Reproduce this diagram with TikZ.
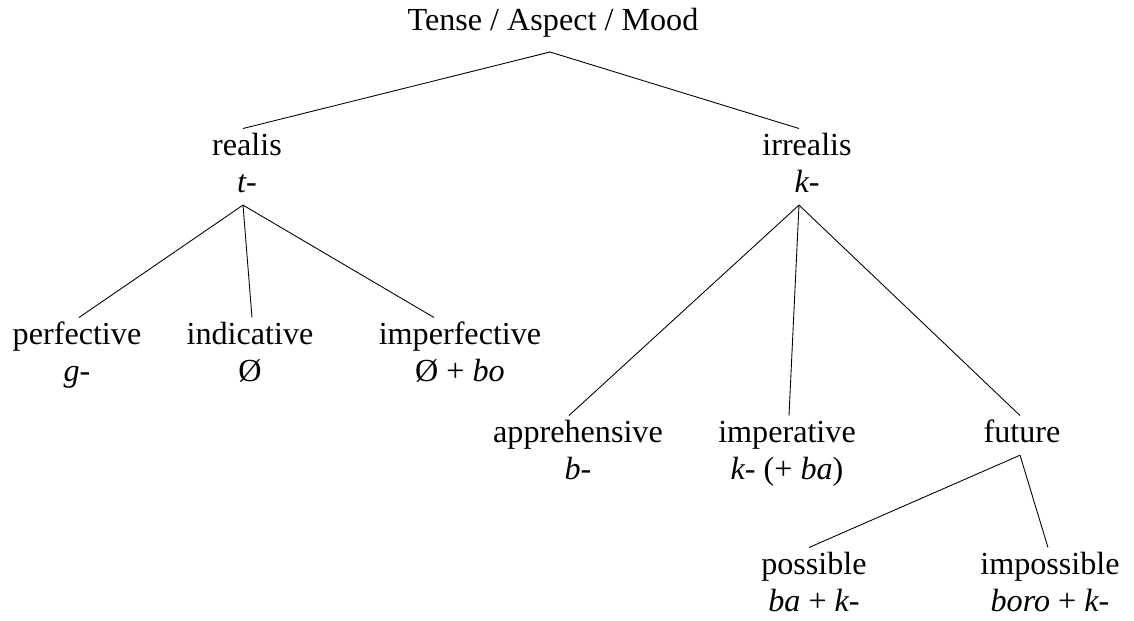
\documentclass[tikz,border=0pt]{standalone}
\usepackage{fontspec}
\setmainfont{Liberation Serif}

\newcommand{\twoline}[2]{\strut #1\\\strut #2}

\begin{document}
\begin{tikzpicture}[
  x=0.02cm,
  y=-0.02cm,
  every node/.style={inner xsep=0pt, inner ysep=0.8pt, outer sep=0pt},
  cat/.style={font=\fontsize{18.3}{21}\selectfont, align=center, anchor=north},
  branch/.style={draw=black, line width=0.5pt}
]

  \useasboundingbox (0,0) rectangle (1134,620);

  % Root
  \node[cat, anchor=south, inner ysep=6pt] (tam) at (553,52) {\strut Tense / Aspect / Mood};

  % First level
  \node[cat] (realis) at (247,128.5) {\twoline{realis}{\textit{t-}}};
  \node[cat] (irrealis) at (807,128.5) {\twoline{irrealis}{\textit{k-}}};

  % Realis daughters
  \node[cat] (perf) at (77,317.5) {\twoline{perfective}{\textit{g-}}};
  \node[cat] (indic) at (250,317.5) {\twoline{indicative}{Ø}};
  \node[cat] (imperf) at (460,317.5) {\twoline{imperfective}{Ø + \textit{bo}}};

  % Irrealis daughters
  \node[cat] (appr) at (578,415.5) {\twoline{apprehensive}{\textit{b-}}};
  \node[cat] (imper) at (787,415.5) {\twoline{imperative}{\textit{k-} (+ \textit{ba})}};
  \node[cat] (fut) at (1022,415.5) {\strut future};

  % Future daughters
  \node[cat] (poss) at (814,547.5) {\twoline{possible}{\textit{ba} + \textit{k-}}};
  \node[cat] (imposs) at (1050,547.5) {\twoline{impossible}{\textit{boro} + \textit{k-}}};

  % Branches
  \draw[branch] ([shift={(-3,0)}]tam.south) -- ([shift={(-4,0)}]realis.north);
  \draw[branch] ([shift={(-3,0)}]tam.south) -- ([shift={(-8,0)}]irrealis.north);

  \draw[branch] ([shift={(-4,0)}]realis.south) -- ([shift={(2,0)}]perf.north);
  \draw[branch] ([shift={(-4,0)}]realis.south) -- ([shift={(2,0)}]indic.north);
  \draw[branch] ([shift={(-4,0)}]realis.south) -- ([shift={(-26,0)}]imperf.north);

  \draw[branch] ([shift={(-8,0)}]irrealis.south) -- ([shift={(-9,0)}]appr.north);
  \draw[branch] ([shift={(-8,0)}]irrealis.south) -- ([shift={(2,0)}]imper.north);
  \draw[branch] ([shift={(-8,0)}]irrealis.south) -- ([shift={(-2,0)}]fut.north);

  \draw[branch] ([shift={(-2,0)}]fut.south) -- ([shift={(-5,0)}]poss.north);
  \draw[branch] ([shift={(-2,0)}]fut.south) -- ([shift={(-2,0)}]imposs.north);

\end{tikzpicture}
\end{document}
